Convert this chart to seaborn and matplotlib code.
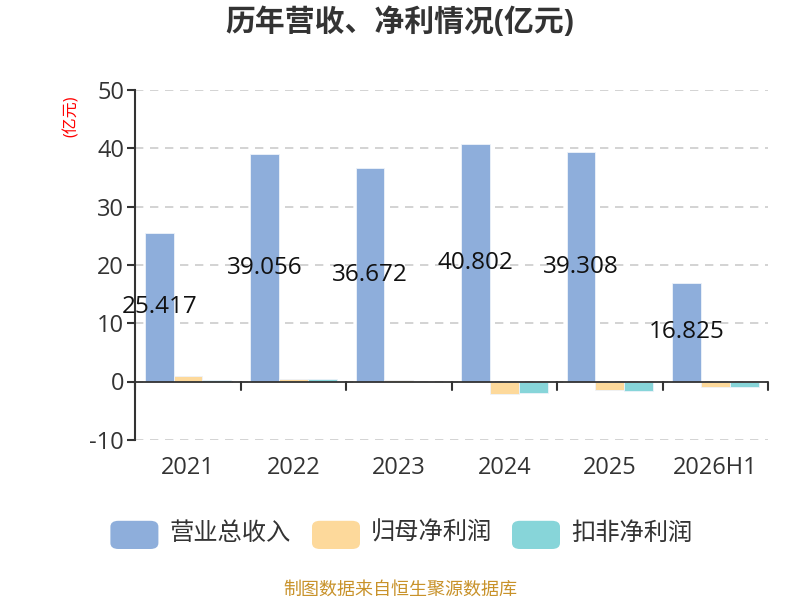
"""
Revenue and net profit by year, grouped bars
"""

import matplotlib.pyplot as plt
import pandas as pd
import seaborn as sns
from matplotlib.patches import FancyBboxPatch

# -----------------------------
# Data
# -----------------------------
years = ["2021", "2022", "2023", "2024", "2025", "2026H1"]
series_names = ["营业总收入", "归母净利润", "扣非净利润"]
revenue = [25.417, 39.056, 36.672, 40.802, 39.308, 16.825]
net_profit = [0.9, 0.5, 0.3, -2.1, -1.4, -0.9]
net_profit_deducted = [0.2, 0.5, -0.1, -1.9, -1.7, -1.0]
y_ticks = [-10, 0, 10, 20, 30, 40, 50]

COLORS = ["#8eaedb", "#fdd99b", "#87d5d9"]
FONT = ["Open Sans", "Noto Sans CJK SC", "DejaVu Sans"]

sns.set_theme(style="white")
plt.rcParams["font.family"] = FONT

df = pd.DataFrame({
    "year": years * 3,
    "series": [series_names[0]] * 6 + [series_names[1]] * 6 + [series_names[2]] * 6,
    "value": revenue + net_profit + net_profit_deducted,
})

# -----------------------------
# Plot
# -----------------------------
fig = plt.figure(figsize=(8, 6), dpi=100)
ax = fig.add_axes([0.169, 0.267, 0.791, 0.583])

for y in y_ticks:
    ax.axhline(y, color="#cccccc", linestyle=(0, (5, 4)), linewidth=1.2, zorder=0)

sns.barplot(
    data=df, x="year", y="value", hue="series", hue_order=series_names,
    palette=COLORS, saturation=1, width=0.82, edgecolor="#eef3fa", linewidth=0.6,
    legend=False, ax=ax, zorder=2,
)

ax.set_ylim(-10, 50)
ax.set_xlim(-0.5, len(years) - 0.5)
ax.set_yticks(y_ticks)
ax.set_yticklabels([str(v) for v in y_ticks], fontsize=17, color="#333333")
ax.set_xticks(range(len(years)))
ax.set_xticklabels(years, fontsize=17, color="#333333")
ax.tick_params(axis="x", length=0, pad=12)
ax.tick_params(axis="y", length=6, width=1.5, color="#333333", left=True, pad=2)
ax.set_xlabel("")
ax.set_ylabel("")

for side in ["top", "right", "bottom"]:
    ax.spines[side].set_visible(False)
ax.spines["left"].set_color("#333333")
ax.spines["left"].set_linewidth(1.5)

# zero axis line with boundary ticks
ax.axhline(0, color="#333333", linewidth=1.3, zorder=3)
for i in range(len(years) + 1):
    ax.plot([i - 0.5, i - 0.5], [0, -1.4], color="#333333", linewidth=1.5,
            zorder=3, clip_on=False)

# value labels in the middle of the revenue bars
for i, v in enumerate(revenue):
    ax.text(i - 0.273, v / 2, f"{v:.3f}", ha="center", va="center",
            fontsize=17.5, color="#111111", zorder=5)

ax.text(-0.1, 0.925, "(亿元)", transform=ax.transAxes, rotation=90,
        color="red", fontsize=11.5, ha="center", va="center")

fig.text(0.5, 0.962, "历年营收、净利情况(亿元)", ha="center", va="center",
         fontsize=21.5, fontweight="bold", color="#333333")

# legend with rounded swatches
leg_items = [(0.138, series_names[0]), (0.39, series_names[1]), (0.64, series_names[2])]
for (x0, name), color in zip(leg_items, COLORS):
    fig.patches.append(FancyBboxPatch(
        (x0, 0.085), 0.06, 0.047, boxstyle="round,pad=0,rounding_size=0.01",
        transform=fig.transFigure, facecolor=color, edgecolor="none"))
    fig.text(x0 + 0.074, 0.11, name, ha="left", va="center",
             fontsize=17.5, color="#333333")

fig.text(0.5, 0.017, "制图数据来自恒生聚源数据库", ha="center", va="center",
         fontsize=13, color="#c8922a")

fig.savefig("out.png", dpi=100)
